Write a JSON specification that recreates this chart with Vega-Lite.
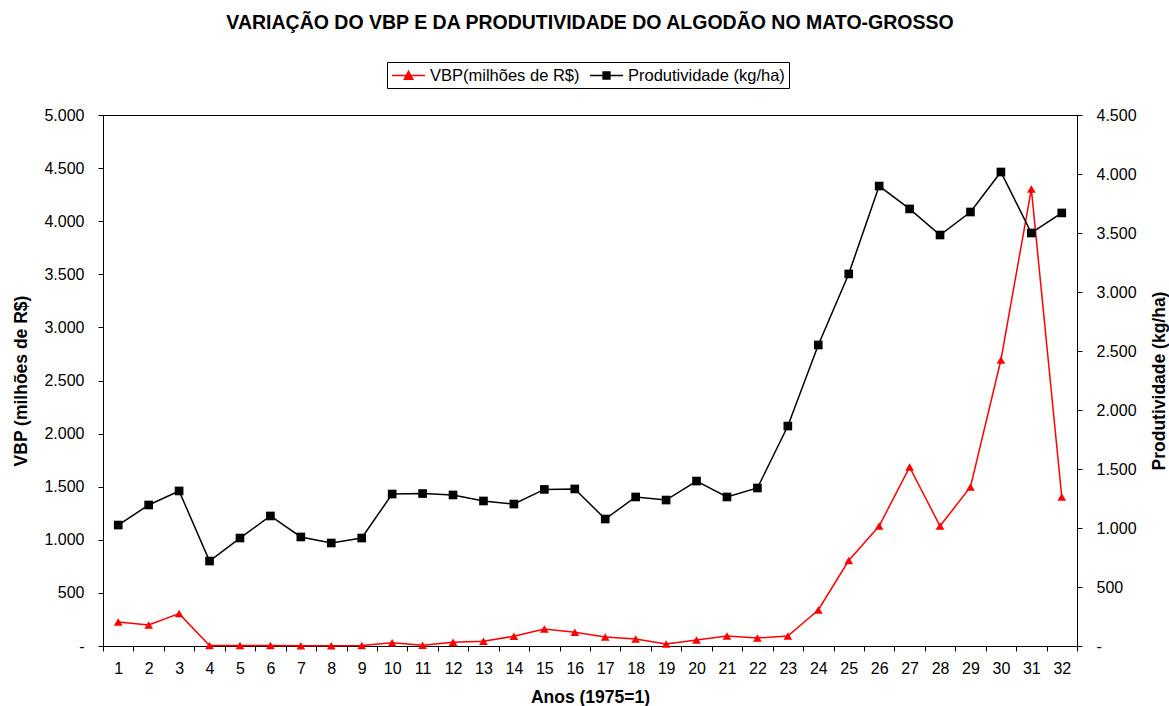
{
  "$schema": "https://vega.github.io/schema/vega-lite/v6.json",
  "width": 974,
  "height": 531,
  "autosize": "none",
  "padding": {"left": 103, "top": 115, "right": 92, "bottom": 60},
  "background": "white",
  "title": {
    "text": "VARIAÇÃO DO VBP E DA PRODUTIVIDADE DO ALGODÃO NO MATO-GROSSO",
    "font": "Liberation Sans",
    "fontSize": 19.5,
    "fontWeight": "bold",
    "color": "black",
    "anchor": "middle",
    "offset": 28
  },
  "data": {
    "values": [
      {"ano": 1, "serie": "VBP(milhões de R$)", "valor": 226},
      {"ano": 2, "serie": "VBP(milhões de R$)", "valor": 198},
      {"ano": 3, "serie": "VBP(milhões de R$)", "valor": 305},
      {"ano": 4, "serie": "VBP(milhões de R$)", "valor": 4},
      {"ano": 5, "serie": "VBP(milhões de R$)", "valor": 4},
      {"ano": 6, "serie": "VBP(milhões de R$)", "valor": 4},
      {"ano": 7, "serie": "VBP(milhões de R$)", "valor": 3},
      {"ano": 8, "serie": "VBP(milhões de R$)", "valor": 3},
      {"ano": 9, "serie": "VBP(milhões de R$)", "valor": 4},
      {"ano": 10, "serie": "VBP(milhões de R$)", "valor": 30},
      {"ano": 11, "serie": "VBP(milhões de R$)", "valor": 6},
      {"ano": 12, "serie": "VBP(milhões de R$)", "valor": 35},
      {"ano": 13, "serie": "VBP(milhões de R$)", "valor": 45},
      {"ano": 14, "serie": "VBP(milhões de R$)", "valor": 92},
      {"ano": 15, "serie": "VBP(milhões de R$)", "valor": 160},
      {"ano": 16, "serie": "VBP(milhões de R$)", "valor": 130},
      {"ano": 17, "serie": "VBP(milhões de R$)", "valor": 85},
      {"ano": 18, "serie": "VBP(milhões de R$)", "valor": 66},
      {"ano": 19, "serie": "VBP(milhões de R$)", "valor": 18},
      {"ano": 20, "serie": "VBP(milhões de R$)", "valor": 56},
      {"ano": 21, "serie": "VBP(milhões de R$)", "valor": 94},
      {"ano": 22, "serie": "VBP(milhões de R$)", "valor": 75},
      {"ano": 23, "serie": "VBP(milhões de R$)", "valor": 94},
      {"ano": 24, "serie": "VBP(milhões de R$)", "valor": 339},
      {"ano": 25, "serie": "VBP(milhões de R$)", "valor": 805},
      {"ano": 26, "serie": "VBP(milhões de R$)", "valor": 1130},
      {"ano": 27, "serie": "VBP(milhões de R$)", "valor": 1685},
      {"ano": 28, "serie": "VBP(milhões de R$)", "valor": 1130},
      {"ano": 29, "serie": "VBP(milhões de R$)", "valor": 1497},
      {"ano": 30, "serie": "VBP(milhões de R$)", "valor": 2693},
      {"ano": 31, "serie": "VBP(milhões de R$)", "valor": 4303},
      {"ano": 32, "serie": "VBP(milhões de R$)", "valor": 1403},
      {"ano": 1, "serie": "Produtividade (kg/ha)", "valor": 1025},
      {"ano": 2, "serie": "Produtividade (kg/ha)", "valor": 1195},
      {"ano": 3, "serie": "Produtividade (kg/ha)", "valor": 1314},
      {"ano": 4, "serie": "Produtividade (kg/ha)", "valor": 720},
      {"ano": 5, "serie": "Produtividade (kg/ha)", "valor": 915},
      {"ano": 6, "serie": "Produtividade (kg/ha)", "valor": 1102},
      {"ano": 7, "serie": "Produtividade (kg/ha)", "valor": 924},
      {"ano": 8, "serie": "Produtividade (kg/ha)", "valor": 873},
      {"ano": 9, "serie": "Produtividade (kg/ha)", "valor": 915},
      {"ano": 10, "serie": "Produtividade (kg/ha)", "valor": 1288},
      {"ano": 11, "serie": "Produtividade (kg/ha)", "valor": 1292},
      {"ano": 12, "serie": "Produtividade (kg/ha)", "valor": 1280},
      {"ano": 13, "serie": "Produtividade (kg/ha)", "valor": 1229},
      {"ano": 14, "serie": "Produtividade (kg/ha)", "valor": 1203},
      {"ano": 15, "serie": "Produtividade (kg/ha)", "valor": 1327},
      {"ano": 16, "serie": "Produtividade (kg/ha)", "valor": 1331},
      {"ano": 17, "serie": "Produtividade (kg/ha)", "valor": 1076},
      {"ano": 18, "serie": "Produtividade (kg/ha)", "valor": 1263},
      {"ano": 19, "serie": "Produtividade (kg/ha)", "valor": 1237},
      {"ano": 20, "serie": "Produtividade (kg/ha)", "valor": 1398},
      {"ano": 21, "serie": "Produtividade (kg/ha)", "valor": 1263},
      {"ano": 22, "serie": "Produtividade (kg/ha)", "valor": 1339},
      {"ano": 23, "serie": "Produtividade (kg/ha)", "valor": 1864},
      {"ano": 24, "serie": "Produtividade (kg/ha)", "valor": 2551},
      {"ano": 25, "serie": "Produtividade (kg/ha)", "valor": 3153},
      {"ano": 26, "serie": "Produtividade (kg/ha)", "valor": 3898},
      {"ano": 27, "serie": "Produtividade (kg/ha)", "valor": 3704},
      {"ano": 28, "serie": "Produtividade (kg/ha)", "valor": 3483},
      {"ano": 29, "serie": "Produtividade (kg/ha)", "valor": 3678},
      {"ano": 30, "serie": "Produtividade (kg/ha)", "valor": 4017},
      {"ano": 31, "serie": "Produtividade (kg/ha)", "valor": 3500},
      {"ano": 32, "serie": "Produtividade (kg/ha)", "valor": 3670}
    ]
  },
  "encoding": {
    "x": {
      "field": "ano",
      "type": "ordinal",
      "scale": {"type": "band", "paddingInner": 0, "paddingOuter": 0},
      "axis": {
        "title": "Anos (1975=1)",
        "labelAngle": 0,
        "tickBand": "extent",
        "tickSize": 5,
        "labelPadding": 9,
        "titlePadding": 12
      }
    },
    "color": {
      "field": "serie",
      "type": "nominal",
      "scale": {"domain": ["VBP(milhões de R$)", "Produtividade (kg/ha)"], "range": ["#ff0000", "#000000"]},
      "legend": {
        "title": null,
        "orient": "none",
        "legendX": 284,
        "legendY": -53,
        "direction": "horizontal",
        "strokeColor": "black",
        "padding": 4,
        "labelFont": "Liberation Sans",
        "labelFontSize": 16.5,
        "labelColor": "black",
        "symbolSize": 289,
        "symbolOffset": 8,
        "labelOffset": 12,
        "columnPadding": 6,
        "encode": {
          "symbols": {
            "update": {
              "shape": {"signal": "datum.value === 'VBP(milhões de R$)' ? 'M-1.95,0H1.95M-0.5,0.45L0,-0.48L0.5,0.45Z' : 'M-1.95,0H1.95M-0.4,-0.4H0.4V0.4H-0.4Z'"},
              "stroke": {"signal": "datum.value === 'VBP(milhões de R$)' ? '#ff0000' : '#000000'"},
              "fill": {"signal": "datum.value === 'VBP(milhões de R$)' ? '#ff0000' : '#000000'"},
              "strokeWidth": {"value": 1.5},
              "opacity": {"value": 1}
            }
          }
        }
      }
    }
  },
  "layer": [
    {
      "transform": [{"filter": "datum.serie === 'VBP(milhões de R$)'"}],
      "mark": {"type": "line", "strokeWidth": 1.5, "point": {"shape": "triangle-up", "filled": true, "size": 75, "opacity": 1}},
      "encoding": {
        "y": {
          "field": "valor",
          "type": "quantitative",
          "scale": {"domain": [0, 5000], "nice": false},
          "axis": {
            "orient": "left",
            "title": "VBP (milhões de R$)",
            "values": [0, 500, 1000, 1500, 2000, 2500, 3000, 3500, 4000, 4500, 5000],
            "labelExpr": "datum.value == 0 ? '-' : replace(format(datum.value, ','), ',', '.')",
            "tickSize": 5,
            "labelPadding": 14,
            "titlePadding": 13,
            "encode": {"labels": {"update": {"dx": {"signal": "datum.value == 0 ? -14 : 0"}}}}
          }
        }
      }
    },
    {
      "transform": [{"filter": "datum.serie === 'Produtividade (kg/ha)'"}],
      "mark": {"type": "line", "strokeWidth": 1.5, "point": {"shape": "square", "filled": true, "size": 75, "opacity": 1}},
      "encoding": {
        "y": {
          "field": "valor",
          "type": "quantitative",
          "scale": {"domain": [0, 4500], "nice": false},
          "axis": {
            "orient": "right",
            "title": "Produtividade (kg/ha)",
            "titleAngle": 270,
            "titleBaseline": "top",
            "values": [0, 500, 1000, 1500, 2000, 2500, 3000, 3500, 4000, 4500],
            "labelExpr": "datum.value == 0 ? '-' : replace(format(datum.value, ','), ',', '.')",
            "tickSize": 5,
            "labelPadding": 14,
            "titlePadding": 14
          }
        }
      }
    }
  ],
  "resolve": {"scale": {"y": "independent"}},
  "config": {
    "view": {"stroke": "black", "strokeWidth": 1},
    "font": "Liberation Sans",
    "axis": {
      "grid": false,
      "domainColor": "black",
      "tickColor": "black",
      "labelColor": "black",
      "titleColor": "black",
      "labelFont": "Liberation Sans",
      "titleFont": "Liberation Sans",
      "labelFontSize": 16,
      "titleFontSize": 17.5,
      "titleFontWeight": "bold",
      "domainWidth": 1,
      "tickWidth": 1
    }
  }
}
